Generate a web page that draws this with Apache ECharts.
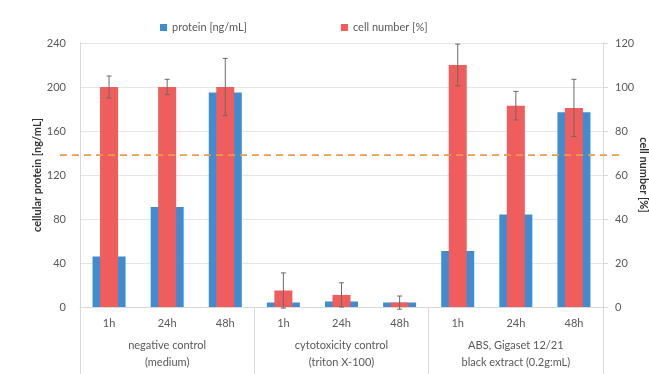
<!DOCTYPE html>
<html><head><meta charset="utf-8">
<script src="https://cdn.jsdelivr.net/npm/echarts@6/dist/echarts.min.js"></script>
<style>html,body{margin:0;padding:0;background:#fff}#c{width:649px;height:374px}</style>
</head><body><div id="c"></div>
<script>
const timeLabels = ['1h','24h','48h','1h','24h','48h','1h','24h','48h'];
const groupLabels = ['negative control\n(medium)','cytotoxicity control\n(triton X-100)','ABS, Gigaset 12/21\nblack extract (0.2g:mL)'];
const proteinValues = [46, 91, 195, 4, 5, 4, 51, 84, 177];
const cellValues = [100, 100, 100, 7.5, 5.5, 2, 110, 91.5, 90.5];
const cellErrors = [5, 3.5, 13, 8, 5.5, 3, 9.5, 6.5, 13];
const thresholdProtein = 138;
const leftTicks = [0, 240, 40];
const rightTicks = [0, 120, 20];

const FONT = 'Lato';
const gray = '#595959';
const chart = echarts.init(document.getElementById('c'), null, {renderer:'canvas'});
const errData = cellValues.map((v,i)=>[i, v - cellErrors[i], v + cellErrors[i]]);
chart.setOption({
  animation:false,
  textStyle:{fontFamily:FONT},
  legend:{top:17,left:155,itemWidth:7,itemHeight:7,itemGap:94,icon:'rect',
    textStyle:{fontFamily:FONT,fontSize:11,color:gray},
    data:['protein [ng/mL]','cell number [%]']},
  grid:{left:80,right:46,top:43,bottom:67,outerBoundsMode:'none',containLabel:false},
  xAxis:[
    {type:'category',data:timeLabels,position:'bottom',
      axisLine:{lineStyle:{color:'#d9d9d9'}},axisTick:{show:false},
      axisLabel:{color:gray,fontSize:11,fontFamily:FONT,margin:11}},
    {type:'category',data:groupLabels,position:'bottom',
      axisLine:{show:false},
      axisTick:{show:true,length:67,lineStyle:{color:'#d9d9d9'}},
      axisLabel:{color:gray,fontSize:11,fontFamily:FONT,margin:30,lineHeight:17}},
    {type:'category',data:timeLabels,show:false}
  ],
  yAxis:[
    {type:'value',min:leftTicks[0],max:leftTicks[1],interval:leftTicks[2],
      name:'cellular protein [ng/mL]',nameLocation:'middle',nameGap:37,nameMoveOverlap:false,
      nameTextStyle:{fontWeight:'bold',fontSize:11,color:'#333',fontFamily:FONT},
      axisLine:{show:true,lineStyle:{color:'#d9d9d9'}},axisTick:{show:false},
      axisLabel:{color:gray,fontSize:11,fontFamily:FONT,margin:14},
      splitLine:{lineStyle:{color:'#e6e6e6'}}},
    {type:'value',min:rightTicks[0],max:rightTicks[1],interval:rightTicks[2],
      name:'cell number [%]',nameLocation:'middle',nameGap:35,nameRotate:-90,nameMoveOverlap:false,
      nameTextStyle:{fontWeight:'bold',fontSize:11,color:'#333',fontFamily:FONT},
      axisLine:{show:true,lineStyle:{color:'#d9d9d9'}},
      axisTick:{show:true,length:5,lineStyle:{color:'#d9d9d9'}},
      axisLabel:{color:gray,fontSize:11,fontFamily:FONT,margin:12},
      splitLine:{show:false}}
  ],
  series:[
    {name:'protein [ng/mL]',type:'bar',xAxisIndex:0,yAxisIndex:0,data:proteinValues,
      barWidth:33,itemStyle:{color:'#3f8dd1'}},
    {name:'cell number [%]',type:'bar',xAxisIndex:2,yAxisIndex:1,data:cellValues,
      barWidth:18,itemStyle:{color:'#ef5d5d'}},
    {type:'custom',xAxisIndex:2,yAxisIndex:1,data:errData,z:10,
      renderItem:function(params,api){
        const lo=api.coord([api.value(0),api.value(1)]);
        const hi=api.coord([api.value(0),api.value(2)]);
        const w=2.5;
        const st={stroke:'#6b6b6b',lineWidth:1};
        return {type:'group',children:[
          {type:'line',shape:{x1:lo[0],y1:lo[1],x2:hi[0],y2:hi[1]},style:st},
          {type:'line',shape:{x1:lo[0]-w,y1:lo[1],x2:lo[0]+w,y2:lo[1]},style:st},
          {type:'line',shape:{x1:hi[0]-w,y1:hi[1],x2:hi[0]+w,y2:hi[1]},style:st}
        ]};
      }}
  ]
});
const yT = chart.convertToPixel({yAxisIndex:0}, thresholdProtein);
chart.setOption({graphic:[{type:'line',z:100,shape:{x1:60,y1:yT,x2:622,y2:yT},
  style:{stroke:'#ee9a4a',lineWidth:1.8,lineDash:[7,5]}}]});
</script></body></html>
